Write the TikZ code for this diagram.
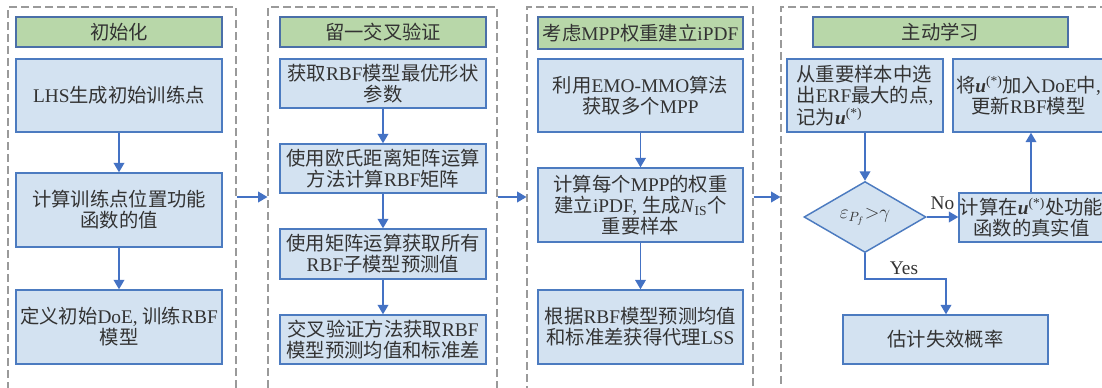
\documentclass[tikz,border=0pt]{standalone}
\usepackage{fontspec}
\setmainfont{Liberation Serif}
\newfontfamily\cjkf{Noto Sans CJK SC}
\usetikzlibrary{fit,shapes.geometric,arrows.meta}
\newcommand\zh[1]{{\cjkf #1}}
\newcommand\ustar{\textbf{\textit{u}}\textsuperscript{(*)}}
% \boxat[style]{name}{x1}{y1}{x2}{y2}{text}
\newcommand\boxat[7][]{%
  \node[#1, minimum width={(#5-#3)*0.75pt}, minimum height={(#6-#4)*0.75pt}]
    (#2) at ({(#3+#5)/2},{(#4+#6)/2}) {#7};}
\definecolor{boxfill}{HTML}{D3E2F1}
\definecolor{boxdraw}{HTML}{4C7BC0}
\definecolor{titlefill}{HTML}{B8D7A9}
\definecolor{titledraw}{HTML}{4A6FA8}
\definecolor{arrowc}{HTML}{4472C4}
\definecolor{dashc}{HTML}{9A9A9A}
\definecolor{txt}{HTML}{333333}
\tikzset{
  panel/.style={draw=dashc, dash pattern=on 6pt off 3pt, line width=0.8pt, inner sep=0pt},
  procbox/.style={draw=boxdraw, fill=boxfill, line width=1.1pt, inner sep=0pt, align=center, text=txt,
     font=\fontsize{14.5}{15.8}\selectfont},
  titlebox/.style={procbox, draw=titledraw, fill=titlefill},
  decision/.style={diamond, draw=boxdraw, fill=boxfill, line width=1.1pt, inner sep=0pt, aspect=1.7,
     minimum width=91.5pt, minimum height=53.25pt, text=txt, font=\fontsize{14.5}{15.8}\selectfont},
  arr/.style={draw=arrowc, line width=1pt, -{Triangle[width=8pt,length=7pt]}},
  lbl/.style={text=txt, font=\fontsize{14.5}{15.8}\selectfont, inner sep=0pt}
}
\begin{document}
\begin{tikzpicture}[x=0.75pt,y=-0.75pt]
\useasboundingbox (0,0) rectangle (1102,387);
\clip (0,0) rectangle (1102,387);
% panels
\node[panel, fit={(8,7) (236,400)}] (p1) {};
\node[panel, fit={(268,7) (497,400)}] (p2) {};
\node[panel, fit={(527,7) (753,400)}] (p3) {};
\node[panel, fit={(781,7) (1120,400)}] (p4) {};
% panel 1
\boxat[titlebox]{t1}{16}{17}{222}{47}{\zh{初始化}}
\boxat[procbox]{b1a}{16}{59}{222}{132}{LHS\zh{生成初始训练点}}
\boxat[procbox]{b1b}{16}{173}{222}{247}{\zh{计算训练点位置功能}\\\zh{函数的值}}
\boxat[procbox]{b1c}{16}{290}{222}{364}{\zh{定义初始}DoE, \zh{训练}RBF\\\zh{模型}}
% panel 2
\boxat[titlebox]{t2}{280}{17}{486}{47}{\zh{留一交叉验证}}
\boxat[procbox]{b2a}{280}{59}{486}{108}{\zh{获取}RBF\zh{模型最优形状}\\\zh{参数}}
\boxat[procbox]{b2b}{280}{144}{486}{193}{\zh{使用欧氏距离矩阵运算}\\\zh{方法计算}RBF\zh{矩阵}}
\boxat[procbox]{b2c}{280}{229}{486}{279}{\zh{使用矩阵运算获取所有}\\RBF\zh{子模型预测值}}
\boxat[procbox]{b2d}{280}{315}{486}{364}{\zh{交叉验证方法获取}RBF\\\zh{模型预测均值和标准差}}
% panel 3
\boxat[titlebox]{t3}{538}{17}{743}{49}{\zh{考虑}MPP\zh{权重建立}iPDF}
\boxat[procbox]{b3a}{538}{59}{743}{132}{\zh{利用}EMO-MMO\zh{算法}\\\zh{获取多个}MPP}
\boxat[procbox]{b3b}{538}{168}{743}{242}{\zh{计算每个}MPP\zh{的权重}\\\zh{建立}iPDF, \zh{生成}\textit{N}\textsubscript{IS}\zh{个}\\\zh{重要样本}}
\boxat[procbox]{b3c}{538}{290}{743}{364}{\zh{根据}RBF\zh{模型预测均值}\\\zh{和标准差获得代理}LSS}
% panel 4
\boxat[titlebox]{t4}{813}{17}{1068}{47}{\zh{主动学习}}
\boxat[procbox, align=left]{b4a}{787}{59}{943}{132}{\zh{从重要样本中选}\\\zh{出}ERF\zh{最大的点}, \\\zh{记为}\ustar}
\boxat[procbox]{b4b}{953}{59}{1104}{132}{\zh{将}\ustar\zh{加入}DoE\zh{中}, \\\zh{更新}RBF\zh{模型}}
\node[decision] (d) at (865,217) {$\varepsilon_{P_f}{>}\gamma$};
\boxat[procbox]{b4c}{959}{193}{1104}{242}{\zh{计算在}\ustar\zh{处功能}\\\zh{函数的真实值}}
\boxat[procbox]{b4d}{843}{315}{1048}{364}{\zh{估计失效概率}}
% arrows in panels
\draw[arr] (b1a) -- (b1b);
\draw[arr] (b1b) -- (b1c);
\draw[arr] (b2a) -- (b2b);
\draw[arr] (b2b) -- (b2c);
\draw[arr] (b2c) -- (b2d);
\draw[arr] (b3a) -- (b3b);
\draw[arr] (b3b) -- (b3c);
\draw[arr] (b4a.south -| d.north) -- (d.north);
\draw[arr] (d.east) -- (b4c.west |- d.east) node[lbl, midway, above=5pt] {No};
\coordinate (up) at (1031,0);
\draw[arr] (b4c.north -| up) -- (b4b.south -| up);
\coordinate (yc) at (946,279);
\draw[arr] (d.south) |- (yc) -- (yc |- b4d.north);
\node[lbl] (yes) at (904,268) {Yes};
% arrows between panels
\coordinate (m) at (0,197);
\draw[arr] (p1.east |- m) -- (p2.west |- m);
\draw[arr] (p2.east |- m) -- (p3.west |- m);
\draw[arr] (p3.east |- m) -- (p4.west |- m);
\end{tikzpicture}
\end{document}
